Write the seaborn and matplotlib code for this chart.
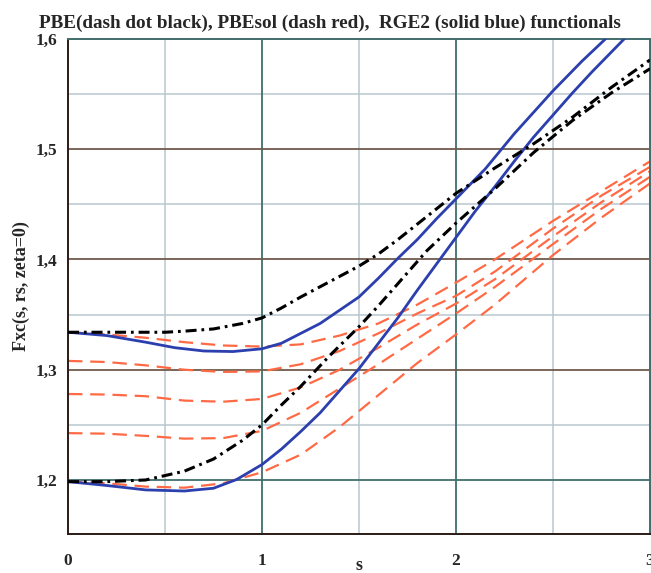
import numpy as np
import pandas as pd
import matplotlib
matplotlib.use("Agg")
import matplotlib.pyplot as plt
import seaborn as sns
from matplotlib.ticker import MultipleLocator, FuncFormatter

# ---- enhancement factors Fxc(s) for several rs ----
s_pbe = [0.0, 0.2, 0.4, 0.5, 0.6, 0.75, 0.9, 1.0, 1.1, 1.2, 1.35, 1.5, 1.6, 1.7,
         1.85, 2.0, 2.2, 2.4, 2.6, 2.8, 3.0]
pbe_hi = [1.334, 1.334, 1.334, 1.334, 1.335, 1.337, 1.342, 1.347, 1.356, 1.366,
          1.380, 1.394, 1.405, 1.418, 1.439, 1.460, 1.483, 1.505, 1.529, 1.556, 1.581]
pbe_lo = [1.1985, 1.1985, 1.200, 1.204, 1.208, 1.219, 1.236, 1.250, 1.268, 1.285,
          1.313, 1.339, 1.358, 1.378, 1.408, 1.433, 1.464, 1.497, 1.526, 1.551, 1.573]

s_rge2 = [0.0, 0.2, 0.4, 0.55, 0.7, 0.85, 1.0, 1.1, 1.2, 1.3, 1.4, 1.5, 1.6, 1.7,
          1.8, 1.9, 2.0, 2.15, 2.3, 2.5, 2.65, 2.8, 2.9]
rge2_hi = [1.334, 1.331, 1.325, 1.320, 1.317, 1.3165, 1.319, 1.324, 1.333, 1.342,
           1.354, 1.366, 1.383, 1.401, 1.418, 1.437, 1.455, 1.482, 1.514, 1.553,
           1.580, 1.605, 1.622]
s_rge2b = [0.0, 0.2, 0.4, 0.6, 0.75, 0.87, 1.0, 1.1, 1.2, 1.3, 1.4, 1.5, 1.6, 1.7,
           1.8, 1.9, 2.0, 2.1, 2.2, 2.3, 2.4, 2.5, 2.6, 2.7, 2.8, 2.9]
rge2_lo = [1.1985, 1.195, 1.191, 1.190, 1.1925, 1.2005, 1.214, 1.228, 1.244, 1.261,
           1.281, 1.301, 1.324, 1.347, 1.372, 1.396, 1.420, 1.444, 1.466, 1.489,
           1.511, 1.531, 1.551, 1.570, 1.588, 1.606]

s_sol = [0.0, 0.2, 0.4, 0.6, 0.8, 1.0, 1.2, 1.4, 1.6, 1.8, 2.0, 2.2, 2.5, 2.75, 3.0]
pbesol = [
    [1.334, 1.332, 1.329, 1.325, 1.322, 1.321, 1.323, 1.331, 1.342, 1.359, 1.379, 1.400, 1.435, 1.462, 1.489],
    [1.308, 1.307, 1.304, 1.300, 1.298, 1.2985, 1.305, 1.317, 1.333, 1.351, 1.367, 1.389, 1.428, 1.458, 1.484],
    [1.278, 1.2775, 1.276, 1.272, 1.271, 1.2735, 1.284, 1.300, 1.320, 1.341, 1.360, 1.382, 1.421, 1.452, 1.480],
    [1.2425, 1.242, 1.240, 1.2375, 1.238, 1.2445, 1.261, 1.283, 1.305, 1.328, 1.351, 1.375, 1.414, 1.446, 1.475],
    [1.1985, 1.197, 1.194, 1.193, 1.197, 1.207, 1.223, 1.248, 1.277, 1.306, 1.332, 1.359, 1.404, 1.438, 1.469],
]

x_ticks = [0, 1, 2, 3]
y_ticks = [1.2, 1.3, 1.4, 1.5, 1.6]

sns.set_style("white")
plt.rcParams["font.family"] = ["Liberation Serif", "DejaVu Serif"]
plt.rcParams["font.weight"] = "bold"

fig = plt.figure(figsize=(6.51, 5.73), dpi=100)
ax = fig.add_axes([68 / 651, 1 - 534 / 573, 582 / 651, 495 / 573])

# grid: light minor lines, dark major lines
teal = "#3f6e6c"
for xv in [0.5, 1.5, 2.5]:
    ax.axvline(xv, color="#b9c6cf", lw=1.1, zorder=0)
for yv in [1.25, 1.35, 1.45, 1.55]:
    ax.axhline(yv, color="#b9c6cf", lw=1.1, zorder=0)
for xv in [1, 2]:
    ax.axvline(xv, color=teal, lw=1.3, zorder=0)
for yv in [1.2, 1.3, 1.4, 1.5]:
    ax.axhline(yv, color=teal if yv == 1.2 else "#6f5a4c", lw=1.3, zorder=0)

red = "#ff6a45"
for vals in pbesol:
    sns.lineplot(x=s_sol, y=vals, ax=ax, color=red, lw=1.6, sort=False,
                 linestyle=(0, (6.5, 3.5)), zorder=2)

blue = "#2b3fae"
sns.lineplot(x=s_rge2, y=rge2_hi, ax=ax, color=blue, lw=2.0, sort=False, zorder=3)
sns.lineplot(x=s_rge2b, y=rge2_lo, ax=ax, color=blue, lw=2.0, sort=False, zorder=3)

for vals in (pbe_hi, pbe_lo):
    sns.lineplot(x=s_pbe, y=vals, ax=ax, color="black", lw=2.2, sort=False,
                 linestyle=(0, (3.6, 1.6, 0.9, 1.6)), zorder=4)

ax.set_xlim(0, 3)
ax.set_ylim(1.151, 1.6)
ax.set_xticks(x_ticks)
ax.set_yticks(y_ticks)
ax.xaxis.set_minor_locator(MultipleLocator(0.5))
ax.yaxis.set_minor_locator(MultipleLocator(0.05))
ax.yaxis.set_major_formatter(FuncFormatter(lambda v, p: f"{v:.1f}".replace(".", ",")))
ax.xaxis.set_major_formatter(FuncFormatter(lambda v, p: f"{v:.0f}"))
ax.tick_params(axis="both", which="major", direction="out", length=5, width=1.2,
               color="#222222", labelsize=12.5, pad=3)
ax.tick_params(axis="both", which="minor", direction="out", length=4, width=1.0,
               color="#222222")
ax.tick_params(axis="x", which="major", pad=9)
for lab in ax.get_xticklabels() + ax.get_yticklabels():
    lab.set_fontweight("bold")

for side in ("left", "bottom"):
    ax.spines[side].set_color("#2a1a14")
    ax.spines[side].set_linewidth(1.4)
for side in ("top", "right"):
    ax.spines[side].set_color(teal)
    ax.spines[side].set_linewidth(1.4)

fig.text(21 / 651, 1 - 286 / 573, "Fxc(s, rs, zeta=0)", rotation=90,
         ha="center", va="center", fontsize=13, fontweight="bold")
fig.text(359 / 651, 1 - 566 / 573, "s", ha="center", va="center",
         fontsize=13, fontweight="bold")

fig.text(330 / 651, 1 - 23 / 573,
         "PBE(dash dot black), PBEsol (dash red),  RGE2 (solid blue) functionals",
         ha="center", va="center", fontsize=13.8, fontweight="bold")

fig.savefig("out.png", dpi=100)
